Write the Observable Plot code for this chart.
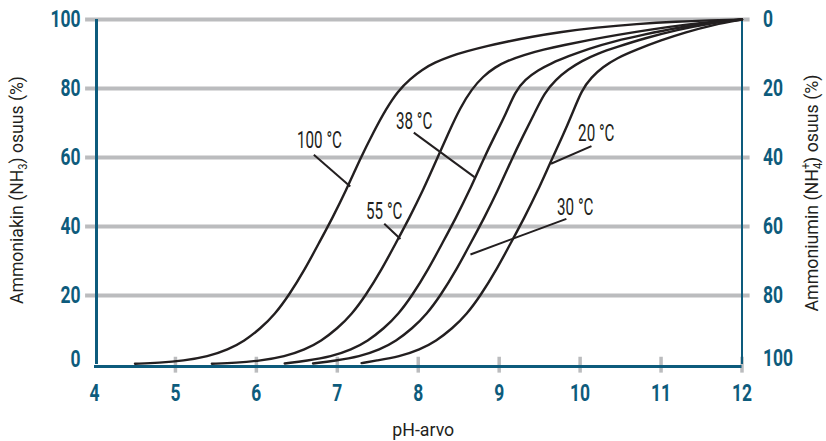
<!DOCTYPE html>
<html>
<head>
<meta charset="utf-8">
<script src="https://cdn.jsdelivr.net/npm/d3@7"></script>
<script src="https://cdn.jsdelivr.net/npm/@observablehq/plot@0.6"></script>
<style>
  html, body { margin: 0; padding: 0; background: #fff; }
</style>
</head>
<body>
<div id="chart"></div>
<script>
// ---- data ----
const seriesNames = ["100 °C", "55 °C", "38 °C", "30 °C", "20 °C"];

const ph100  = [4.5, 4.8, 5.1, 5.4, 5.65, 5.85, 6.05, 6.23, 6.4, 6.6, 6.78, 6.94, 7.1, 7.28, 7.45, 7.6, 7.75, 7.9, 8.05, 8.2, 8.4, 8.6, 8.85, 9.1, 9.4, 9.76, 10.2, 10.7, 11.2, 11.6, 12];
const pct100 = [0.2, 0.5, 1.1, 2.3, 4.3, 6.8, 10.4, 14.6, 20, 27.6, 35.5, 42.5, 50, 59.5, 67.5, 74, 79.3, 82.8, 85.5, 87.5, 89.4, 90.8, 92.3, 93.6, 95, 96.4, 97.7, 98.7, 99.4, 99.75, 100];

const ph55  = [5.45, 5.75, 6.05, 6.35, 6.6, 6.8, 7.0, 7.18, 7.35, 7.55, 7.73, 7.89, 8.05, 8.23, 8.38, 8.52, 8.66, 8.8, 8.95, 9.1, 9.3, 9.55, 9.8, 10.1, 10.45, 10.9, 11.3, 11.65, 12];
const pct55 = [0.2, 0.5, 1.1, 2.3, 4.3, 6.8, 10.4, 14.6, 20, 27.6, 35.5, 42.5, 50, 59.5, 67.5, 74.5, 79.8, 83.5, 86.2, 88, 89.7, 91.3, 92.6, 94, 95.5, 97.2, 98.5, 99.4, 100];

const ph38  = [6.35, 6.625, 6.925, 7.175, 7.375, 7.575, 7.755, 7.925, 8.125, 8.305, 8.465, 8.625, 8.805, 8.95, 9.08, 9.2, 9.32, 9.48, 9.65, 9.85, 10.1, 10.42, 10.8, 11.2, 11.6, 12];
const pct38 = [0.3, 1.1, 2.3, 4.3, 6.8, 10.4, 14.6, 20, 27.6, 35.5, 42.5, 50, 59.5, 66.5, 72.5, 79.2, 82.6, 85.3, 87.4, 89.3, 91.5, 93.7, 95.7, 97.6, 99.1, 100];

const ph30  = [6.7, 6.975, 7.275, 7.525, 7.725, 7.925, 8.105, 8.275, 8.475, 8.655, 8.815, 8.975, 9.155, 9.3, 9.43, 9.56, 9.7, 9.85, 10.02, 10.22, 10.45, 10.8, 11.2, 11.6, 12];
const pct30 = [0.3, 1.1, 2.3, 4.3, 6.8, 10.4, 14.6, 20, 27.6, 35.5, 42.5, 50, 59.5, 66.5, 72.5, 78.8, 82.6, 85.5, 88, 90.2, 92, 94.6, 97, 98.9, 100];

const ph20  = [7.3, 7.47, 7.77, 8.02, 8.22, 8.42, 8.6, 8.77, 8.97, 9.15, 9.31, 9.47, 9.65, 9.78, 9.9, 10.02, 10.14, 10.28, 10.45, 10.7, 11.0, 11.3, 11.65, 12];
const pct20 = [0.4, 1.1, 2.3, 4.3, 6.8, 10.4, 14.6, 20, 27.6, 35.5, 42.5, 50, 59.5, 66, 72.5, 79.6, 83.3, 86.2, 88.8, 91.3, 94, 96.3, 98.5, 100];

const xTicks = [4, 5, 6, 7, 8, 9, 10, 11, 12];
const yTicks = [0, 20, 40, 60, 80, 100];

// curve labels: text centre (pH, %) and leader line from -> to
const labelText = ["100 °C", "38 °C", "20 °C", "55 °C", "30 °C"];
const labelPH   = [6.78, 7.95, 10.2, 7.58, 9.94];
const labelPct  = [64.9, 70.3, 66.8, 44.2, 45.5];
const leadPH1   = [6.71, 7.945, 10.14, 7.58, 9.83];
const leadPct1  = [60.8, 67.2, 63.3, 40.8, 42.2];
const leadPH2   = [7.16, 8.695, 9.64, 7.78, 8.645];
const leadPct2  = [51.6, 54.3, 58.2, 36.4, 31.9];

const xTitle = "pH-arvo";
const yTitleLeft = "Ammoniakin (NH3) osuus (%)";
const yTitleRight = "Ammoniumin (NH4+) osuus (%)";

// ---- build tables ----
const curveArrays = [[ph100, pct100], [ph55, pct55], [ph38, pct38], [ph30, pct30], [ph20, pct20]];
const curves = curveArrays.flatMap(([xs, ys], i) => xs.map((x, j) => ({series: seriesNames[i], ph: x, pct: ys[j]})));
const labels = labelText.map((t, i) => ({t, x: labelPH[i], y: labelPct[i], x1: leadPH1[i], y1: leadPct1[i], x2: leadPH2[i], y2: leadPct2[i]}));

const teal = "#0d5b7c";
const grid = "#bbbcbe";
const ink = "#231f20";
const font = "Roboto, 'Noto Sans', 'DejaVu Sans', sans-serif";

const chart = Plot.plot({
  width: 826,
  height: 441,
  marginLeft: 94,
  marginRight: 84.5,
  marginTop: 19,
  marginBottom: 77,
  style: {background: "#fff", overflow: "visible", fontFamily: font},
  x: {domain: [4, 12], axis: null},
  y: {domain: [0, 100], axis: null},
  marks: [
    // gridlines
    Plot.ruleY(yTicks.filter(d => d > 0), {y: d => d, x1: 3.89, x2: 12.1, stroke: grid, strokeWidth: 4, clip: false}),
    // bottom tick marks
    Plot.ruleX(xTicks.filter(d => d > 4), {x: d => d, y1: -2.5, y2: 2.1, stroke: grid, strokeWidth: 3.5}),
    // axis lines
    Plot.ruleX([4], {y1: 0, y2: 100, stroke: teal, strokeWidth: 3, dx: 2}),
    Plot.ruleX([12], {y1: 0, y2: 100, stroke: teal, strokeWidth: 2}),
    Plot.ruleY([0], {x1: 4, x2: 12, stroke: teal, strokeWidth: 3, dy: 2}),
    // curves
    Plot.line(curves, {x: "ph", y: "pct", z: "series", stroke: ink, strokeWidth: 2.4, curve: "basis"}),
    // leaders and labels
    Plot.link(labels, {x1: "x1", y1: "y1", x2: "x2", y2: "y2", stroke: ink, strokeWidth: 2}),
    Plot.text(labels, {x: "x", y: "y", text: "t", fill: ink, fontSize: 23, className: "curve-label"}),
    // tick labels
    Plot.axisY(yTicks, {anchor: "left", tickSize: 0, tickPadding: 14, fontSize: 23, fontWeight: "bold", color: teal, fill: teal, className: "tick-label tick-left"}),
    Plot.axisY(yTicks, {anchor: "right", tickSize: 0, tickPadding: 21, fontSize: 23, fontWeight: "bold", color: teal, fill: teal, tickFormat: d => 100 - d, className: "tick-label tick-right"}),
    Plot.axisX(xTicks, {anchor: "bottom", tickSize: 0, tickPadding: 20, fontSize: 23, fontWeight: "bold", color: teal, fill: teal, className: "tick-label"}),
    // axis titles
    Plot.text([yTitleLeft], {frameAnchor: "left", textAnchor: "middle", lineAnchor: "middle", dx: -78, dy: -2, rotate: -90, fontSize: 19, fill: ink, className: "title-left"}),
    Plot.text([yTitleRight], {frameAnchor: "right", textAnchor: "middle", lineAnchor: "middle", dx: 69.5, dy: 1, rotate: -90, fontSize: 19, fill: ink, className: "title-right"}),
    Plot.text([xTitle], {frameAnchor: "bottom", textAnchor: "middle", lineAnchor: "middle", dx: 5, dy: 65, fontSize: 19, fill: ink, className: "title-x"})
  ]
});

document.getElementById("chart").appendChild(chart);
const svg = d3.select(chart);

// subscripts / superscripts in the axis titles
svg.selectAll("text").each(function() {
  const el = d3.select(this);
  const s = el.text();
  if (s === yTitleLeft) {
    el.text(null);
    el.append("tspan").text("Ammoniakin (NH");
    el.append("tspan").attr("dy", 4).attr("font-size", 12).text("3");
    el.append("tspan").attr("dy", -4).text(") osuus (%)");
  } else if (s === yTitleRight) {
    el.text(null);
    el.append("tspan").text("Ammoniumin (NH");
    el.append("tspan").attr("dy", 4).attr("font-size", 12).text("4");
    el.append("tspan").attr("dx", -7).attr("dy", -12).attr("font-size", 12).text("+");
    el.append("tspan").attr("dy", 8).text(") osuus (%)");
  }
});

// the lowest tick labels sit slightly above the base line
function liftLabel(sel, label, px) {
  svg.selectAll(sel).filter(function() { return this.textContent === label; }).each(function() {
    const t = this.getAttribute("transform") || "";
    this.setAttribute("transform", (t + ` translate(0,${-px})`).trim());
  });
}
liftLabel(".tick-left text", "0", 5);
liftLabel(".tick-right text", "100", 6);

// condensed look: squeeze glyphs horizontally
function squeeze(selector, ratio, fixed) {
  svg.selectAll(selector + " text").each(function() {
    const w = this.getComputedTextLength();
    const target = fixed != null ? fixed : w * ratio;
    this.setAttribute("textLength", target);
    this.setAttribute("lengthAdjust", "spacingAndGlyphs");
  });
}
squeeze(".tick-label", 0.76);
squeeze(".curve-label", 0.66);
squeeze(".title-left", null, 228);
squeeze(".title-right", null, 237);
squeeze(".title-x", null, 62);
</script>
</body>
</html>
